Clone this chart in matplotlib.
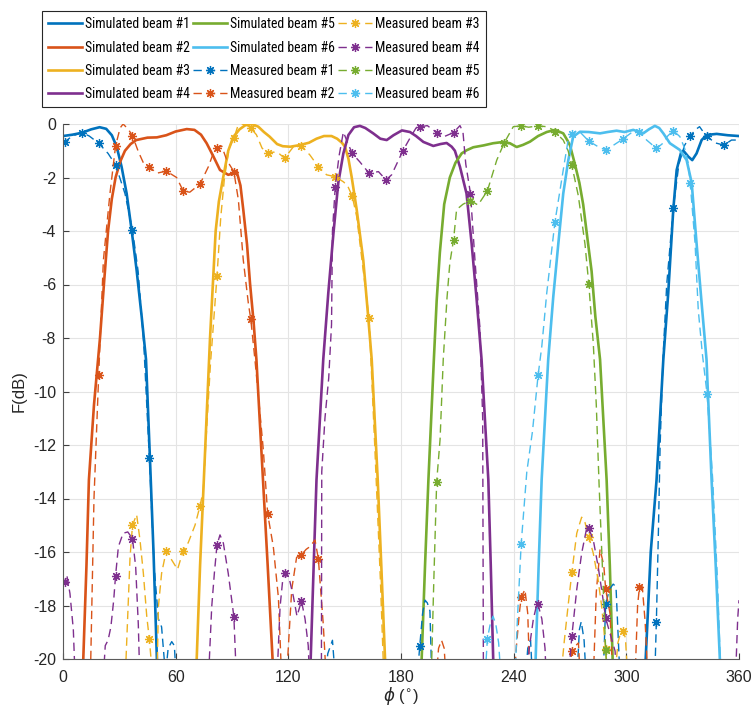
import numpy as np
import matplotlib.pyplot as plt

plt.rcParams['font.family'] = ['Liberation Sans', 'DejaVu Sans']
plt.rcParams['axes.unicode_minus'] = False

colors = ['#0072BD', '#D95319', '#EDB120', '#7E2F8E', '#77AC30', '#4DBEEE']

# simulated patterns (phi in deg, F in dB)
sim1_phi = [0, 5, 10, 15, 19.5, 23, 26, 28.6, 31.2, 33.9, 36.6, 39.2, 41.9, 44.2, 46.3, 48.2, 50, 51,
            309, 310.3, 313, 316.1, 319.7, 322.3, 325, 326.8, 329.1, 330.4, 333, 335.1, 337.4, 340.1,
            342.8, 348.1, 354, 360]
sim1_db = [-0.45, -0.4, -0.33, -0.2, -0.12, -0.18, -0.42, -0.85, -1.6, -2.6, -4.0, -5.46, -7.2, -8.8,
           -12.5, -16, -20, -25,
           -25, -20, -16, -13.3, -8.8, -6.33, -3.2, -1.72, -1.08, -1.0, -1.22, -1.35, -1.1, -0.6,
           -0.41, -0.37, -0.42, -0.45]

sim2_phi = [9.5, 10.8, 12.5, 13.8, 16.5, 19.7, 22, 24, 26, 28, 30.5, 33, 36, 39, 45, 50, 55, 60, 65.9,
            70, 73.5, 76.5, 80, 83.6, 88, 90.5, 92.5, 94.5, 96, 98, 99.6, 101.5, 103, 106.5, 109,
            111.6, 113]
sim2_db = [-25, -20, -16.5, -13.3, -10.5, -8.0, -5.8, -4.0, -2.8, -2.0, -1.4, -1.0, -0.75, -0.6, -0.51,
           -0.5, -0.42, -0.28, -0.19, -0.22, -0.4, -0.72, -1.2, -1.72, -1.9, -1.85, -1.78, -2.3, -3.2,
           -4.5, -5.96, -7.4, -8.8, -13.3, -16.5, -20, -25]

sim3_phi = [70, 71.2, 73, 75, 78.3, 81.3, 83, 85.3, 88, 90.6, 94, 97, 100.5, 104, 107, 110, 114, 117,
            121, 126, 131, 135, 139, 143, 146, 148.5, 150.2, 152, 153.7, 156.4, 159.9, 162.6, 164.4,
            167.6, 169.5, 171.5, 173]
sim3_db = [-25, -20, -16.5, -13.3, -8.0, -4.0, -2.9, -2.0, -1.0, -0.5, -0.2, -0.05, 0, -0.1, -0.3,
           -0.47, -0.75, -0.83, -0.85, -0.79, -0.7, -0.55, -0.45, -0.45, -0.55, -0.7, -0.85, -1.3,
           -1.97, -3.2, -5.08, -7.27, -8.8, -13.3, -16.5, -20, -25]

sim4_phi = [130.5, 131.9, 133.5, 135, 138.6, 141.3, 144, 146.6, 149.3, 152, 155, 158.1, 161, 165.2,
            169, 172.4, 176, 180.5, 184.8, 188, 191.9, 197.2, 201, 204.3, 207, 208.7, 211.4, 214.9,
            217.6, 220.3, 222.9, 226.5, 227.8, 229.1, 230.5]
sim4_db = [-25, -20, -16.5, -13.3, -8.8, -6.3, -4.1, -2.2, -1.1, -0.41, -0.12, -0.07, -0.15, -0.35,
           -0.55, -0.6, -0.42, -0.24, -0.3, -0.45, -0.67, -0.82, -0.75, -0.71, -0.85, -1.0, -1.6,
           -2.6, -4.46, -6.58, -8.8, -13.3, -16.5, -20, -25]

sim5_phi = [189.5, 191, 192.8, 194.6, 197.5, 199, 200.7, 203, 206, 209, 212.3, 215, 218.5, 224, 229,
            234.5, 238, 241.6, 245, 248.7, 253, 257.6, 262, 266.4, 268.5, 270, 272.6, 275, 277,
            279.5, 281.5, 283.5, 286, 289.5, 291.2, 292.7, 294]
sim5_db = [-25, -20, -16.5, -13.3, -8.8, -6.6, -4.8, -3.0, -2.0, -1.45, -1.1, -0.98, -0.87, -0.8,
           -0.72, -0.67, -0.72, -0.86, -0.78, -0.66, -0.45, -0.3, -0.22, -0.35, -0.6, -0.8, -1.5,
           -2.2, -3.0, -4.4, -5.5, -7.2, -8.8, -13.3, -16.5, -20, -25]

sim6_phi = [250.3, 251.7, 253.3, 254.9, 258.4, 261.1, 263.8, 266.4, 269.1, 271.7, 275.3, 280, 286,
            290, 294.8, 299, 303.7, 309, 312, 315.2, 317.5, 319.7, 323.2, 328.5, 332.1, 334.8, 337.4,
            340.1, 342.7, 345.4, 347.6, 349.8, 351]
sim6_db = [-25, -20, -16.5, -13.3, -8.8, -6.45, -4.46, -2.6, -1.35, -0.47, -0.29, -0.3, -0.35, -0.3,
           -0.25, -0.3, -0.22, -0.35, -0.2, -0.07, -0.15, -0.35, -0.72, -0.97, -1.35, -2.2, -4.46,
           -6.7, -8.8, -13.3, -16.5, -20, -25]

# measured patterns
meas1_phi = [0, 1, 5, 10, 14, 19, 24, 28, 33, 37, 40, 43, 46, 48.5, 50.8, 52.5, 54.6, 56, 57.9, 59.3, 60.5,
             139.2, 141, 143.5, 145.3,
             188.3, 190, 191.5, 192.8, 194, 195.4, 196.5,
             246, 247.5, 249, 250.2,
             273.5, 275, 276, 277.5, 278.8,
             287.5, 289, 291, 293, 294.5, 296.8,
             315, 316, 317, 318, 319.5, 321.5, 325, 328, 331, 334, 337, 339, 341, 343, 347, 352, 356, 360]
meas1_db = [-0.65, -0.66, -0.45, -0.32, -0.45, -0.72, -1.1, -1.53, -2.6, -3.96, -5.5, -8.2, -12.5, -16.5,
            -18.5, -18.8, -20.6, -19.6, -19.35, -19.5, -21,
            -21, -19.8, -19.3, -21,
            -21, -19.5, -18.3, -17.8, -17.9, -18.2, -21,
            -21, -19.6, -19.3, -21,
            -21, -18.9, -18.6, -19.3, -21,
            -21, -17.96, -17.4, -17.2, -17.3, -21,
            -21, -18.6, -15.5, -12, -8.8, -6, -3.15, -1.5, -0.8, -0.45, -0.2, -0.1, -0.3, -0.45, -0.7,
            -0.79, -0.6, -0.6]

meas2_phi = [14.5, 16.5, 19, 21.5, 25, 28, 30.4, 32, 34.8, 37, 40.1, 42.8, 46, 49.9, 55, 60.5, 64, 67.5,
             73, 77.4, 80, 82, 84.5, 87.2, 91, 93.4, 96, 98.7, 100, 102.2, 104.5, 106.7, 109, 112,
             114.7, 116.6,
             118.8, 121.8, 124.4, 127, 129.5, 131.5, 134.2, 136, 138.6, 140.4,
             198.5, 200, 201.6, 203, 204.2,
             240, 241.5, 243, 244, 246, 247.5, 248.7,
             268.8, 271, 273, 274.5, 275.6,
             282.3, 284, 286, 288, 289, 291.3, 293,
             304.5, 306, 307, 308.5, 310, 311.7]
meas2_db = [-21, -14, -9.4, -5.1, -2.6, -0.82, -0.15, 0, -0.2, -0.44, -1.03, -1.45, -1.6, -1.84, -1.76,
            -2.0, -2.5, -2.55, -2.24, -1.6, -1.1, -0.91, -0.82, -1.35, -1.78, -2.84, -5.08, -6.7, -7.3,
            -8.8, -10.5, -12.2, -14.58, -15.8, -17.7, -21,
            -21, -17.4, -16.2, -16.1, -15.9, -15.8, -15.55, -16.26, -18.7, -21,
            -21, -19.6, -19.3, -19.6, -21,
            -21, -19.5, -18.3, -17.7, -17.4, -18.3, -21,
            -21, -19.7, -19.5, -19.4, -21,
            -21, -17.5, -15.9, -16.5, -17.4, -18.3, -21,
            -21, -18, -17.3, -17.3, -18.6, -21]

meas3_phi = [33, 35.7, 37, 39.2, 41, 42.8, 44.6, 46, 48.1,
             50, 50.8, 52.5, 55, 57.9, 61, 64, 66.7, 70.3, 73, 74.7, 76, 78.5, 82, 84, 86, 88.5, 91, 93,
             95.5, 98, 100, 103, 106, 109, 112, 115, 118, 122.7, 127, 131.5, 136, 140.4, 145, 149.3,
             151.5, 154, 156.4, 159, 163, 166, 169, 171,
             264.7, 267, 269, 271, 273.6, 276.2, 278, 280, 282.4, 285, 286.9, 289, 290.5,
             293.5, 295.5, 297, 298, 299.5, 301]
meas3_db = [-21, -16.2, -15.0, -14.6, -15.55, -16.8, -18.4, -19.27, -21,
            -21, -18.05, -16.8, -15.95, -16.3, -16.65, -15.95, -15.65, -15.0, -14.27, -13.7, -12, -9,
            -5.7, -3.5, -2.0, -0.9, -0.53, -0.1, 0, -0.05, -0.16, -0.4, -0.9, -1.1, -1.05, -1.1, -1.28,
            -0.85, -0.82, -1.16, -1.6, -1.9, -1.97, -2.16, -2.3, -2.69, -3.46, -4.96, -7.27, -12, -17,
            -21,
            -21, -19.3, -18, -16.76, -15.3, -14.7, -14.9, -15.43, -16.05, -17.05, -18.05, -19.64, -21,
            -21, -19.4, -19.0, -18.94, -19.2, -21]

meas4_phi = [0, 1, 2, 3.7, 5.5, 6.6,
             21.2, 22.5, 24, 25.5, 27, 28, 29.5, 32, 34.5, 37, 38.7, 40.1, 41,
             77.3, 79.2, 80.6, 82, 83.6, 85.4, 88, 91, 92.5,
             113.8, 115.6, 117, 118, 120.5, 122.7, 124.6, 127, 128.9, 130.6, 131.4,
             137.6, 137.8, 139.5, 141.5, 143, 143.5, 145, 147, 149.3, 151, 154, 158, 163, 168, 172, 175,
             178, 181, 185, 188, 190, 194, 199, 203, 208, 211.4, 213, 214.5, 217, 219.4, 222, 223.5,
             223.9,
             246, 248.5, 250.5, 252.5, 253, 255, 256.7, 257.5,
             268.8, 271, 273.6, 276.2, 278.9, 280, 282.4, 285, 287.4, 289, 291.3, 294, 295,
             358, 359.3, 360]
meas4_db = [-17.0, -17.13, -16.85, -17.55, -18.9, -21,
            -21, -19.5, -19.3, -18.8, -17.8, -16.88, -15.8, -15.3, -15.25, -15.5, -16.55, -18.7, -21,
            -21, -18.05, -16.8, -15.74, -15.36, -15.67, -16.8, -18.42, -21,
            -21, -18.05, -17.05, -16.8, -17.0, -17.67, -18.4, -17.83, -18.5, -19.5, -21,
            -21, -13, -11, -9.5, -7.5, -4, -2.34, -1.2, -0.3, -0.6, -1.1, -1.41, -1.84, -1.78, -2.09,
            -1.9, -1.45, -1.0, -0.5, -0.15, -0.11, -0.06, -0.32, -0.47, -0.32, -0.06, -0.3, -1.5, -2.6,
            -5.1, -7.6, -11, -21,
            -21, -19.5, -18.5, -17.9, -17.96, -18.5, -19.6, -21,
            -21, -19.13, -17.4, -16.05, -15.1, -15.12, -15.55, -16.55, -17.67, -18.48, -19.04, -19.7,
            -21,
            -21, -18.5, -17.8]

meas5_phi = [196, 197.5, 199, 200.8, 202.5, 204.5, 206, 208, 209.6, 213, 217, 221, 226, 231, 235, 239.8,
             244, 248, 253, 257.5, 261, 262, 266.4, 269, 271, 274.4, 278, 280, 282.4, 284, 285.5, 287.5,
             289, 290]
meas5_db = [-21, -17, -13.37, -11.8, -8.8, -6.5, -5.2, -4.32, -3.2, -3.0, -2.86, -3.03, -2.5, -1.35, -0.7,
            -0.1, -0.07, -0.12, -0.07, -0.1, -0.22, -0.3, -0.6, -1.0, -1.55, -2.67, -4.5, -5.98, -8.2,
            -10.5, -13.5, -17, -19.66, -21]

meas6_phi = [224.5, 226, 227.5, 229, 230.5, 232, 233.5,
             240.5, 242, 244, 247, 250, 253, 255, 257.6, 262, 266.4, 269, 271, 273.6, 276, 280, 285, 289,
             293, 298, 302.8, 307, 310.8, 316, 319, 322, 325, 328.5, 331, 333, 334, 336.6, 338.3, 340.5,
             343, 346, 348.5, 350.5]
meas6_db = [-21, -19.25, -18.7, -18.4, -18.7, -19.4, -21,
            -21, -18.5, -15.7, -13, -11.5, -9.4, -8.3, -6.33, -3.65, -1.72, -0.6, -0.37, -0.25, -0.35,
            -0.64, -0.85, -0.97, -0.8, -0.57, -0.32, -0.29, -0.6, -0.91, -0.75, -0.45, -0.25, -0.47,
            -0.9, -1.47, -2.19, -4.46, -6.95, -8.6, -10.1, -13.3, -17, -21]

# markers sit every 9 degrees starting at 1 deg
mark_phi = list(range(1, 360, 9))

sims = [(sim1_phi, sim1_db), (sim2_phi, sim2_db), (sim3_phi, sim3_db),
        (sim4_phi, sim4_db), (sim5_phi, sim5_db), (sim6_phi, sim6_db)]
meas = [(meas1_phi, meas1_db), (meas2_phi, meas2_db), (meas3_phi, meas3_db),
        (meas4_phi, meas4_db), (meas5_phi, meas5_db), (meas6_phi, meas6_db)]

fig = plt.figure(figsize=(7.53, 7.12), dpi=100)
ax = fig.add_axes([63 / 753, 1 - 659 / 712, 676 / 753, 535 / 712])

handles = []
for k, (p, d) in enumerate(sims):
    h, = ax.plot(p, d, '-', color=colors[k], lw=1.9, label='Simulated beam #%d' % (k + 1))
    handles.append(h)

for k, (p, d) in enumerate(meas):
    idx = [i for i, v in enumerate(p) if v in mark_phi]
    h, = ax.plot(p, d, color=colors[k], lw=1.0, dashes=(6, 3.6),
                 marker=(8, 2, 0), markersize=6.5, markeredgewidth=0.9, markevery=idx,
                 label='Measured beam #%d' % (k + 1))
    handles.append(h)

ax.set_xlim(0, 360)
ax.set_ylim(-20, 0)
ax.set_xticks(np.arange(0, 361, 60))
ax.set_yticks(np.arange(-20, 1, 2))
ax.grid(True, color='#e4e4e4', lw=0.8)
ax.set_axisbelow(True)
ax.tick_params(direction='in', length=4, width=0.8, color='#404040', labelsize=11.5,
               labelcolor='#262626', top=False, right=False)
ax.tick_params(axis='x', pad=8)
ax.tick_params(axis='y', pad=5)
for s in ['top', 'right']:
    ax.spines[s].set_visible(False)
for s in ['left', 'bottom']:
    ax.spines[s].set_color('#5a5a5a')
    ax.spines[s].set_linewidth(0.8)

ax.set_xlabel(r'$\phi$ ($^{\circ}$)', fontsize=12, color='#262626', labelpad=0)
ax.set_ylabel('F(dB)', fontsize=12, color='#262626', labelpad=4.5)

leg = fig.legend(handles=handles, ncol=3, loc='upper left', bbox_to_anchor=(42 / 753, 1 - 11 / 712),
                 borderaxespad=0, prop={'family': ['Roboto Condensed', 'Liberation Sans'], 'size': 9.9},
                 handlelength=2.45, handletextpad=0.22, columnspacing=0.25, labelspacing=0.68,
                 borderpad=0.45, fancybox=False, framealpha=1, edgecolor='#262626')
leg.get_frame().set_linewidth(0.8)

fig.savefig('out.png', dpi=100)
